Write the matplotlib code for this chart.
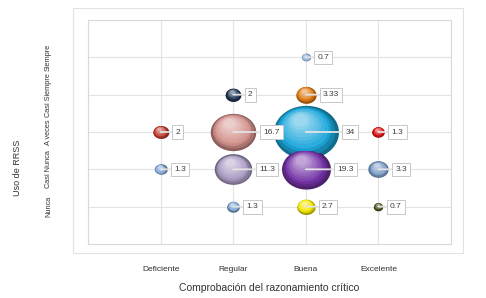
import matplotlib.pyplot as plt
import numpy as np
from matplotlib.path import Path
from matplotlib.patches import Rectangle
from matplotlib.transforms import offset_copy
from matplotlib.colors import to_rgb

plt.rcParams['font.family'] = ['Liberation Sans', 'DejaVu Sans']

niveles_x = ["Deficiente", "Regular", "Buena", "Excelente"]
niveles_y = ["Nunca", "Casi Nunca", "A veces", "Casi Siempre", "Siempre"]

# cada burbuja: nivel de razonamiento (x), uso de RRSS (y), porcentaje
burbuja_x = ["Deficiente", "Deficiente", "Regular", "Regular", "Regular", "Regular",
             "Buena", "Buena", "Buena", "Buena", "Buena",
             "Excelente", "Excelente", "Excelente"]
burbuja_y = ["A veces", "Casi Nunca", "Casi Siempre", "A veces", "Casi Nunca", "Nunca",
             "Siempre", "Casi Siempre", "A veces", "Casi Nunca", "Nunca",
             "A veces", "Casi Nunca", "Nunca"]
valores = [2, 1.3, 2, 16.7, 11.3, 1.3, 0.7, 3.33, 34, 19.3, 2.7, 1.3, 3.3, 0.7]
etiquetas = ["2", "1.3", "2", "16.7", "11.3", "1.3", "0.7", "3.33", "34", "19.3", "2.7", "1.3", "3.3", "0.7"]
colores = ["#c0392f", "#7fa6d6", "#1e3553", "#d4928d", "#a99bc2", "#7fa6d6",
           "#8cb0da", "#e07a12", "#1aa6da", "#7433a6", "#f4e800",
           "#e21212", "#7b9cc8", "#4b5a22"]

fig = plt.figure(figsize=(4.86, 2.98), dpi=100)
ax = fig.add_axes([88/486, 54/298, 363/486, 224/298])

# marco exterior del gráfico
fig.patches.append(Rectangle((73/486, 45/298), 390/486, 245/298, transform=fig.transFigure,
                             fill=False, edgecolor="#e2e2e2", lw=0.8))

# marcador elíptico (burbujas algo achatadas)
t = np.linspace(0, 2*np.pi, 60)
elipse = Path(np.column_stack([np.cos(t), 0.82*np.sin(t)]), closed=True)

px = [niveles_x.index(v) + 1 for v in burbuja_x]
py = [niveles_y.index(v) + 1 for v in burbuja_y]
escala = 64.4  # puntos^2 por unidad

def mezcla(c, otro, a):
    c = np.array(to_rgb(c)); o = np.array(to_rgb(otro))
    return tuple(c*(1-a) + o*a)

orden = np.argsort(valores)[::-1]
for i in orden:
    s = escala * valores[i]
    w = np.sqrt(s)
    capas = 10
    for k in range(capas):
        f = 1 - 0.85*k/capas
        if k == 0:
            col = mezcla(colores[i], "black", 0.35)
        elif k < 3:
            col = mezcla(colores[i], "black", 0.35 - 0.15*k)
        else:
            col = mezcla(colores[i], "white", 0.08*(k-2))
        tr = offset_copy(ax.transData, fig=fig, x=-(1-f)*w*0.12, y=(1-f)*w*0.25, units="points")
        ax.scatter(px[i], py[i], s=s*f*f, marker=elipse, color=col, lw=0, transform=tr,
                   zorder=3 + k*0.01)
    ax.annotate(etiquetas[i], xy=(px[i], py[i]), xytext=(w/2 + 5, 0), textcoords="offset points",
                ha="left", va="center", fontsize=6, color="#404040", zorder=5,
                bbox=dict(boxstyle="square,pad=0.4", fc="white", ec="#c8c8c8", lw=0.7),
                arrowprops=dict(arrowstyle="-", color="#e4e4e4", lw=1.3, shrinkA=0, shrinkB=0))

ax.set_xlim(0, 5)
ax.set_ylim(0, 6)
ax.set_xticks(range(1, 5))
ax.set_xticklabels(niveles_x, fontsize=6, color="#333333")
ax.set_yticks(range(1, 6))
ax.set_yticklabels(niveles_y, fontsize=5.3, color="#333333", rotation=90, va="center")
ax.tick_params(length=0)
ax.tick_params(axis="x", pad=16)
ax.tick_params(axis="y", pad=26)
ax.grid(color="#e3e3e3", lw=0.8)
ax.set_axisbelow(True)
for sp in ax.spines.values():
    sp.set_color("#d9d9d9")
    sp.set_linewidth(0.8)

ax.set_xlabel("Comprobación del razonamiento crítico", fontsize=7.5, color="#333333", labelpad=7)
fig.text(17/486, 1 - 168/298, "Uso de RRSS", rotation=90, fontsize=6.5, color="#333333",
         ha="center", va="center")

fig.savefig("out.png", dpi=100)
